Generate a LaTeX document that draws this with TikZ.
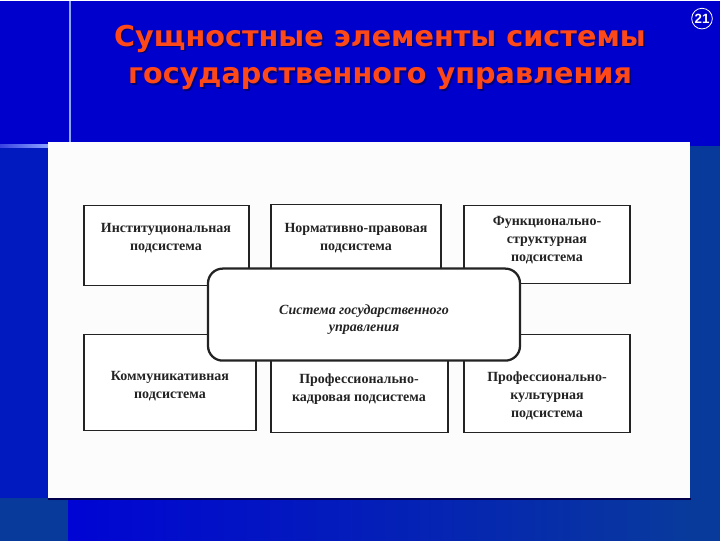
\documentclass[tikz,border=0pt]{standalone}
\usepackage{fontspec}
\setmainfont{Liberation Serif}
\newfontfamily\titlefont{DejaVu Sans}
\newfontfamily\numfont{Liberation Sans}
\definecolor{bgblue}{RGB}{0,0,204}
\definecolor{leftblue}{RGB}{0,26,192}
\definecolor{rightblue}{RGB}{8,58,156}
\definecolor{botstart}{RGB}{0,4,212}
\definecolor{titlered}{RGB}{255,72,24}
\definecolor{lineblue}{RGB}{140,165,255}
\definecolor{ink}{RGB}{35,35,35}
\begin{document}
\begin{tikzpicture}[x=0.75pt,y=-0.75pt,
  subbox/.style={draw=ink, line width=1.2pt, fill=white, inner sep=0pt},
  lbl/.style={font=\bfseries\fontsize{10.5}{13.5}\selectfont, text=ink, align=center, inner sep=0pt},
  centerbox/.style={draw=ink, line width=1.7pt, fill=white, rounded corners=11pt, inner sep=0pt},
  clbl/.style={font=\bfseries\itshape\fontsize{10.5}{13}\selectfont, text=ink, align=center, inner sep=0pt},
  ttl/.style={font=\titlefont\bfseries\fontsize{21.5}{28}\selectfont, align=center, inner sep=0pt}
]
% slide background
\fill[bgblue] (0,0) rectangle (720,540);
\fill[leftblue] (0,145) rectangle (48,497);
\fill[rightblue] (690,145) rectangle (720,540);
\fill[rightblue] (0,497) rectangle (68,540);
\shade[left color=botstart, right color=rightblue] (68,497) rectangle (690,540);
\draw[lineblue, line width=0.9pt] (70,0) -- (70,142);
\shade[left color=bgblue!60!lineblue, right color=lineblue] (0,144) rectangle (48,146.5);
% white scanned image
\fill[black!70!blue] (48,497) rectangle (691,499.5);
\fill[white!99!black] (48,141) rectangle (690,497);
% title
\node[ttl, text=black!60!blue, opacity=0.8] (titleshadow) at (381.5,58.5) {Сущностные элементы системы\\государственного управления};
\node[ttl, text=titlered] (title) at (380,57) {Сущностные элементы системы\\государственного управления};
% slide number
\node[draw=white, line width=0.6pt, circle, minimum size=15.5pt, inner sep=0pt, text=white, font=\numfont\bfseries\fontsize{10}{10}\selectfont] (num) at (702,18) {21};
% subsystem boxes
\node[subbox, minimum width=165*0.75pt, minimum height=80*0.75pt] (b1) at (166.5,245) {};
\node[subbox, minimum width=170*0.75pt, minimum height=81*0.75pt] (b2) at (356,244.5) {};
\node[subbox, minimum width=166*0.75pt, minimum height=78*0.75pt] (b3) at (547,244) {};
\node[subbox, minimum width=172*0.75pt, minimum height=96*0.75pt] (b4) at (170,382) {};
\node[subbox, minimum width=177*0.75pt, minimum height=98*0.75pt] (b5) at (359.5,383) {};
\node[subbox, minimum width=166*0.75pt, minimum height=98*0.75pt] (b6) at (547,383) {};
\node[lbl] (t1) at (166,238) {Институциональная\\подсистема};
\node[lbl] (t2) at (356,238) {Нормативно-правовая\\подсистема};
\node[lbl] (t3) at (547,240) {Функционально-\\структурная\\подсистема};
\node[lbl] (t4) at (170,386) {Коммуникативная\\подсистема};
\node[lbl] (t5) at (359,389) {Профессионально-\\кадровая подсистема};
\node[lbl] (t6) at (547,395) {Профессионально-\\культурная\\подсистема};
% central system box
\node[centerbox, minimum width=312*0.75pt, minimum height=92*0.75pt] (sys) at (364,314) {};
\node[clbl] (tsys) at (364,319) {Система государственного\\управления};
\end{tikzpicture}
\end{document}
